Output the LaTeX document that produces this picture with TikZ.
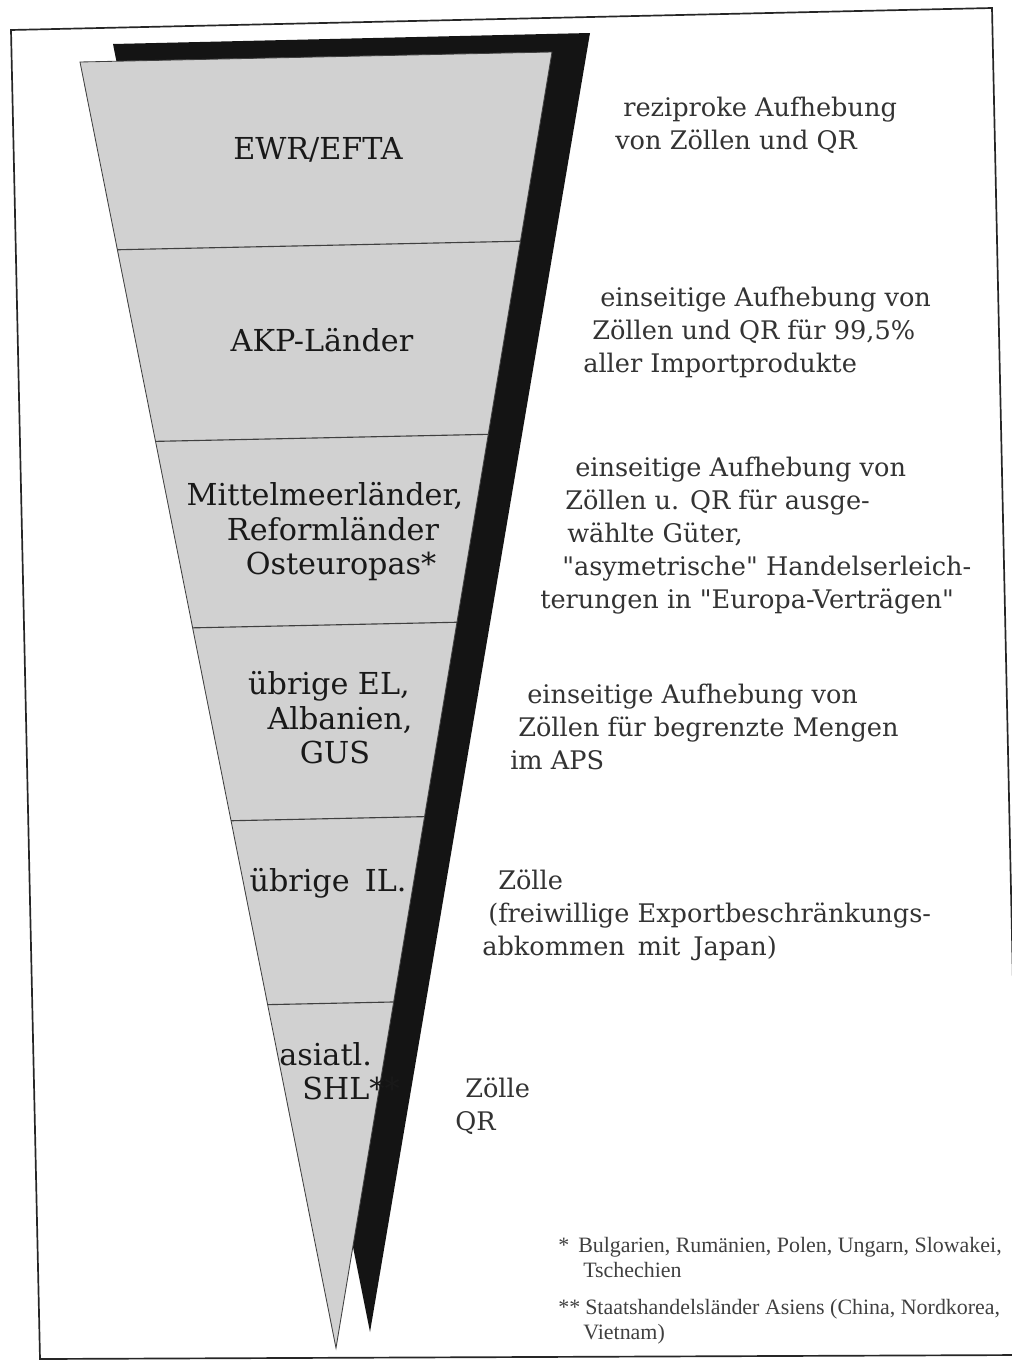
\documentclass[tikz,border=0pt]{standalone}
\usepackage{fontspec}
\setmainfont{DejaVu Serif}
\newfontfamily\notefont{Liberation Serif}
\usetikzlibrary{calc}

\begin{document}
\begin{tikzpicture}[
        x=0.025cm, y=-0.025cm,
        pageframe/.style={draw=black!85, line width=1.2pt},
        funnel/.style={fill=black!18, draw=black!75, line width=0.6pt},
        shadow/.style={fill=black!92},
        band/.style={draw=black!75, line width=0.8pt},
        region/.style={font=\fontsize{21.5}{24.5}\selectfont, text=black!90, align=center, inner sep=0pt},
        measure/.style={font=\fontsize{18.2}{23.5}\selectfont, text=black!80, align=left, anchor=west, inner sep=0pt},
        fnote/.style={font=\notefont\fontsize{15.6}{17.8}\selectfont, text=black!75, align=left, anchor=west, inner sep=0pt},
    ]
        \useasboundingbox (0,0) rectangle (1012,1361);
        \clip (0,0) rectangle (1012,1361);
        \fill[white] (0,0) rectangle (1012,1361);
        \draw[pageframe] (11,30) -- (992,8) -- (1021,1355) -- (40,1359) -- cycle;

        \coordinate (sl) at (113,44);
        \coordinate (sr) at (590,33);
        \coordinate (stip) at (370,1332);
        \fill[shadow] (sl) -- (sr) -- (stip) -- cycle;

        \coordinate (gl) at (80,62);
        \coordinate (gr) at (552,52);
        \coordinate (tip) at (336,1348);
        \filldraw[funnel] (gl) -- (gr) -- (tip) -- cycle;
        \foreach \t in {0.146,0.295,0.44,0.59,0.733}
            \draw[band] ($(gl)!\t!(tip)$) -- ($(gr)!\t!(tip)$);

        \node[region] (ewr) at (318,150) {EWR/EFTA};
        \node[region] (akp) at (322,340) {AKP-Länder};
        \node[region] (mittelmeer) at (333,532) {Mittelmeerländer,\hspace*{4mm}\\Reformländer\\\hspace*{4mm}Osteuropas*};
        \node[region] (uebrigeel) at (335,718) {übrige EL,\hspace*{3mm}\\\hspace*{2.5mm}Albanien,\\GUS};
        \node[region] (uebrigeil) at (328,883) {übrige\enspace IL.};
        \node[region, align=left, anchor=west] (asiatl) at (279,1071) {asiatl.\\\hspace*{5.75mm}SHL**};

        \node[measure] (ewrtext) at (615,125) {\hspace*{2mm}reziproke Aufhebung\\von Zöllen und QR};
        \node[measure] (akptext) at (583,332) {\hspace*{4.25mm}einseitige Aufhebung von\\\hspace*{2.25mm}Zöllen und QR für 99,5\%\\aller Importprodukte};
        \node[measure] (mittelmeertext) at (540,536) {\hspace*{8.75mm}einseitige Aufhebung von\\\hspace*{6.25mm}Zöllen u. QR für ausge-\\\hspace*{6.75mm}wählte Güter,\\\hspace*{5.5mm}\textquotedbl asymetrische\textquotedbl{} Handelserleich-\\terungen in \textquotedbl Europa-Verträgen\textquotedbl};
        \node[measure] (uebrigeeltext) at (510,727) {\hspace*{4.25mm}einseitige Aufhebung von\\\hspace*{2mm}Zöllen für begrenzte Mengen\\im APS};
        \node[measure] (uebrigeiltext) at (482,915) {\hspace*{4mm}Zölle\\\hspace*{1.5mm}(freiwillige Exportbeschränkungs-\\abkommen\enspace mit\enspace Japan)};
        \node[measure] (asiatltext) at (455,1106) {\hspace*{2.5mm}Zölle\\QR};

        \node[fnote] (fnreform) at (558,1257) {\makebox[5mm][l]{*}Bulgarien, Rumänien, Polen, Ungarn, Slowakei,\\\hspace*{6.25mm}Tschechien};
        \node[fnote] (fnshl) at (558,1322) {\makebox[6.75mm][l]{**}Staatshandelsländer Asiens (China, Nordkorea,\\\hspace*{6.25mm}Vietnam)};
    \end{tikzpicture}
\end{document}
